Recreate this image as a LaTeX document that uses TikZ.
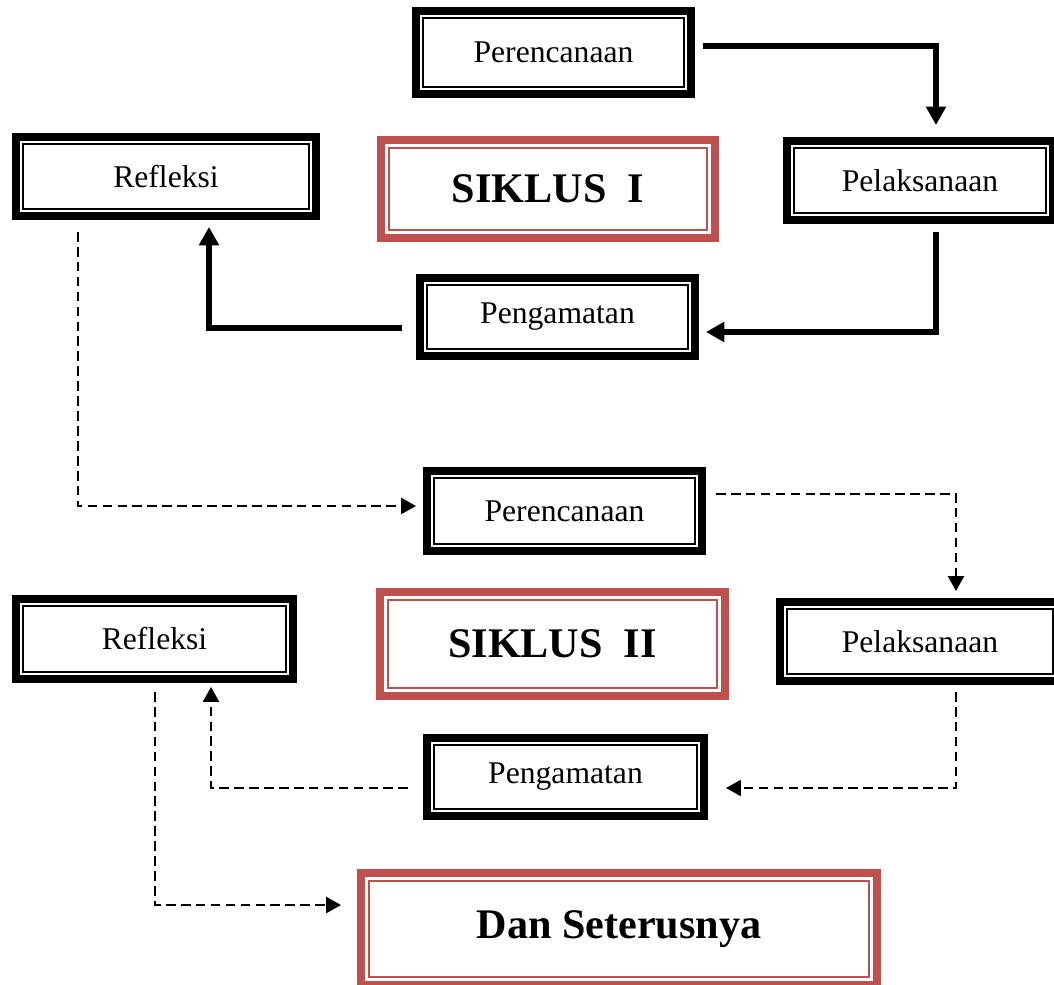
\documentclass[tikz,border=0pt]{standalone}
\usepackage{fontspec}
\setmainfont{Liberation Serif}
\usetikzlibrary{arrows.meta}

\definecolor{siklusred}{RGB}{192,80,77}

\tikzset{
  stage/.style={draw, line width=4.5pt, inner sep=0pt, font=\fontsize{18}{20}\selectfont,
    path picture={\draw[line width=1.2pt] ([shift={(3.9pt,-3.9pt)}]path picture bounding box.north west)
      rectangle ([shift={(-3.9pt,3.9pt)}]path picture bounding box.south east);}},
  cyclebox/.style={draw=siklusred, line width=4.5pt, inner sep=0pt, font=\bfseries\fontsize{24}{28}\selectfont,
    path picture={\draw[siklusred, line width=1.1pt] ([shift={(4.4pt,-4.4pt)}]path picture bounding box.north west)
      rectangle ([shift={(-4.4pt,4.4pt)}]path picture bounding box.south east);}},
  flow/.style={line width=3.2pt, -{Triangle[length=10.5pt,width=11pt]}},
  dflow/.style={line width=1.6pt, dash pattern=on 5.5pt off 3pt, -{Triangle[length=8.5pt,width=9pt]}}
}

\begin{document}
\begin{tikzpicture}[x=0.02cm, y=-0.02cm]
        % page size
        \useasboundingbox (0,0) rectangle (1054,984);

        % Siklus I
        \node[stage, minimum width=5.5cm, minimum height=1.66cm] (per1) at (553.5,52.5) {Perencanaan};
        \node[stage, minimum width=5.32cm, minimum height=1.58cm] (pel1) at (920,180.5) {Pelaksanaan};
        \node[stage, minimum width=5.5cm, minimum height=1.56cm] (pen1) at (557.5,317) {Pengamatan};
        \node[stage, minimum width=6.0cm, minimum height=1.58cm] (ref1) at (166,176.5) {Refleksi};
        \node[cyclebox, minimum width=6.68cm, minimum height=1.96cm] (sik1) at (548,189) {SIKLUS\ \ I};

        % Siklus II
        \node[stage, minimum width=5.5cm, minimum height=1.6cm] (per2) at (564.5,511) {Perencanaan};
        \node[stage, minimum width=5.6cm, minimum height=1.58cm] (pel2) at (920,641.5) {Pelaksanaan};
        \node[stage, minimum width=5.54cm, minimum height=1.56cm] (pen2) at (565.5,777) {Pengamatan};
        \node[stage, minimum width=5.54cm, minimum height=1.6cm] (ref2) at (154.5,639) {Refleksi};
        \node[cyclebox, minimum width=6.9cm, minimum height=2.08cm] (sik2) at (552.5,644) {SIKLUS\ \ II};

        % Dan seterusnya
        \node[cyclebox, minimum width=10.32cm, minimum height=2.24cm] (dan) at (619,929) {Dan Seterusnya};

        % Solid arrows (siklus I)
        \draw[flow] ([shift={(8,-6.5)}]per1.east) -| ([shift={(16,-12)}]pel1.north);
        \draw[flow] ([shift={(16,8)}]pel1.south) |- ([shift={(7,15)}]pen1.east);
        \draw[flow] ([shift={(-14,11)}]pen1.west) -| ([shift={(43,7)}]ref1.south);

        % Dashed arrows (siklus II)
        \draw[dflow] ([shift={(-88,12)}]ref1.south) |- ([shift={(-7,-5)}]per2.west);
        \draw[dflow] ([shift={(10,-17)}]per2.east) -| ([shift={(36,-7)}]pel2.north);
        \draw[dflow] ([shift={(36,7)}]pel2.south) |- ([shift={(18,11)}]pen2.east);
        \draw[dflow] ([shift={(-15,11)}]pen2.west) -| ([shift={(56.5,4)}]ref2.south);
        \draw[dflow] ([shift={(0.5,9)}]ref2.south) |- ([shift={(-16,-24)}]dan.west);
    \end{tikzpicture}
\end{document}
